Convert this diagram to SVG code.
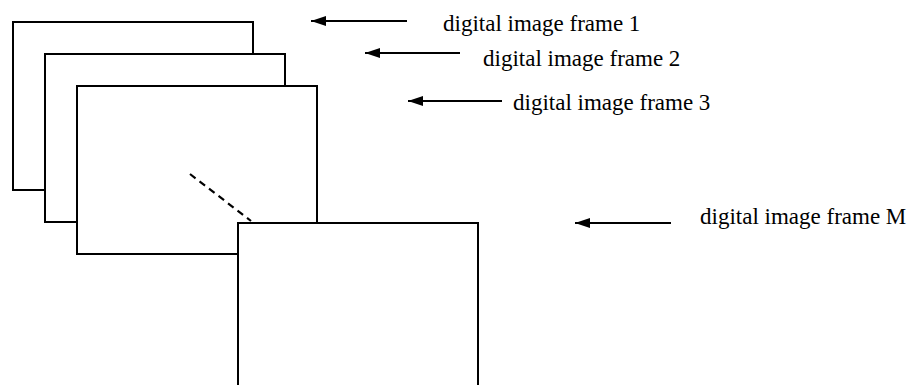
<svg xmlns="http://www.w3.org/2000/svg" width="913" height="385" viewBox="0 0 913 385">
  <style>
    .frame { fill: #ffffff; stroke: #000000; stroke-width: 2; }
    .arrow { stroke: #000000; stroke-width: 2; fill: none; marker-end: url(#head); }
    .label { font-family: "Liberation Serif", "Times New Roman", serif; font-size: 23px; fill: #000000; }
    .dash { stroke: #000000; stroke-width: 2.2; stroke-dasharray: 7 5; fill: none; }
  </style>
  <defs>
    <marker id="head" markerUnits="userSpaceOnUse" markerWidth="16" markerHeight="12" refX="15" refY="5.5" orient="auto">
      <path d="M0,0.5 L15,5.5 L0,10.5 Z" fill="#000000"/>
    </marker>
  </defs>
  <rect width="913" height="385" fill="#ffffff"/>

  <g id="frame1"><rect class="frame" x="13" y="22" width="240" height="168"/></g>
  <g id="frame2"><rect class="frame" x="45" y="54" width="240" height="168"/></g>
  <g id="frame3"><rect class="frame" x="77" y="86" width="240" height="168"/></g>
  <g id="frameM"><rect class="frame" x="238" y="223" width="240" height="175"/></g>

  <g id="connectors">
    <line class="dash" x1="190" y1="174" x2="251" y2="221"/>
    <line class="arrow" x1="407" y1="21" x2="311" y2="21"/>
    <line class="arrow" x1="460" y1="53" x2="365" y2="53"/>
    <line class="arrow" x1="502" y1="101" x2="408" y2="101"/>
    <line class="arrow" x1="671" y1="223" x2="575" y2="223"/>
  </g>

  <g id="label1"><text class="label" x="443" y="31">digital image frame 1</text></g>
  <g id="label2"><text class="label" x="483" y="66">digital image frame 2</text></g>
  <g id="label3"><text class="label" x="513" y="110">digital image frame 3</text></g>
  <g id="labelM"><text class="label" x="700" y="224">digital image frame M</text></g>
</svg>
